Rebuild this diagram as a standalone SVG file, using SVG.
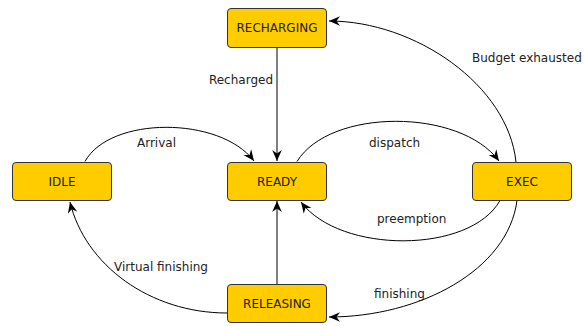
<svg xmlns="http://www.w3.org/2000/svg" width="584" height="326" viewBox="0 0 584 326">
<defs>
<marker id="arr" markerUnits="userSpaceOnUse" markerWidth="14" markerHeight="12" viewBox="-12 -6 14 12" refX="0" refY="0" orient="auto">
<path d="M0,0 L-11,-4.8 L-7.5,0 L-11,4.8 Z" fill="#000"/>
</marker>
</defs>
<style>
.node rect{fill:#FFCC00;stroke:#333;stroke-width:1}
.node text{font-family:"DejaVu Sans",sans-serif;font-size:12px;fill:#1a1a1a;text-anchor:middle}
.edge{fill:none;stroke:#000;stroke-width:1;marker-end:url(#arr)}
.lbl{font-family:"DejaVu Sans",sans-serif;font-size:12px;fill:#222}
</style>
<rect width="584" height="326" fill="#fff"/>
<g id="connectors">
<path class="edge" d="M277,47.5 L277,161"/>
<path class="edge" d="M277,284.5 L277,201"/>
<path class="edge" d="M516,162 C508,85 415,21 329,21"/>
<path class="edge" d="M85,161.5 C110,116 220,116 254,161"/>
<path class="edge" d="M297,161.5 C330,108 460,108 499,161"/>
<path class="edge" d="M500,200.5 C470,254 340,254 301,202"/>
<path class="edge" d="M517,200.5 C508,270 420,317 329,317"/>
<path class="edge" d="M227,313 C150,313 85,265 70,202"/>
<text class="lbl" x="273" y="84" text-anchor="end">Recharged</text>
<text class="lbl" x="472" y="62">Budget exhausted</text>
<text class="lbl" x="137" y="147">Arrival</text>
<text class="lbl" x="369" y="147">dispatch</text>
<text class="lbl" x="377" y="223">preemption</text>
<text class="lbl" x="374" y="298">finishing</text>
<text class="lbl" x="114" y="271">Virtual finishing</text>
</g>
<g id="RECHARGING" class="node"><rect x="227.5" y="8.5" width="99" height="39" rx="3.5"/><text x="277" y="32">RECHARGING</text></g>
<g id="IDLE" class="node"><rect x="12.5" y="162.5" width="99" height="38" rx="3.5"/><text x="62" y="186">IDLE</text></g>
<g id="READY" class="node"><rect x="227.5" y="162.5" width="99" height="38" rx="3.5"/><text x="277" y="186">READY</text></g>
<g id="EXEC" class="node"><rect x="472.5" y="162.5" width="99" height="38" rx="3.5"/><text x="522" y="186">EXEC</text></g>
<g id="RELEASING" class="node"><rect x="227.5" y="284.5" width="99" height="38" rx="3.5"/><text x="277" y="308">RELEASING</text></g>
</svg>
